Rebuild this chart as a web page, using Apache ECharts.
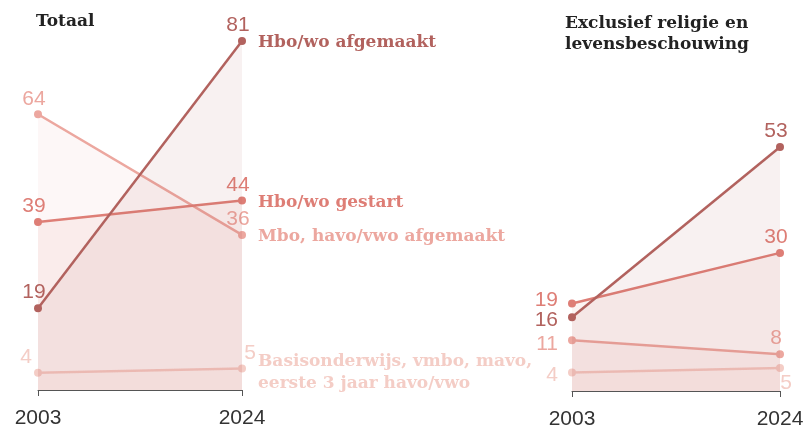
<!DOCTYPE html>
<html>
<head>
<meta charset="utf-8">
<script src="https://cdn.jsdelivr.net/npm/echarts@6/dist/echarts.min.js"></script>
<style>
    html, body { margin: 0; padding: 0; background: #fff; }
    #container { width: 808px; height: 430px; }
</style>
</head>
<body>
<div id="container"></div>
<script>
// jaren
var years = ['2003', '2024'];
var seriesNames = ['Basisonderwijs, vmbo, mavo,\neerste 3 jaar havo/vwo', 'Mbo, havo/vwo afgemaakt', 'Hbo/wo gestart', 'Hbo/wo afgemaakt'];

// Totaal
var totaalBasis = [4, 5];
var totaalMbo = [64, 36];
var totaalHboGestart = [39, 44];
var totaalHboAfgemaakt = [19, 81];

// Exclusief religie en levensbeschouwing
var exclBasis = [4, 5];
var exclMbo = [11, 8];
var exclHboGestart = [19, 30];
var exclHboAfgemaakt = [16, 53];

var colors = ['#f4cdc6', '#eca79f', '#de7e76', '#b2625e'];
var serif = 'DejaVu Serif';
var sans = 'Liberation Sans';

// label placement per punt (links paneel / rechts paneel)
var leftLabels = [
    [{position: 'top', offset: [-12, 4]}, {position: 'top', offset: [8, 4]}],
    [{position: 'top', offset: [-4, 4]}, {position: 'top', offset: [-4, 4]}],
    [{position: 'top', offset: [-4, 4]}, {position: 'top', offset: [-4, 4]}],
    [{position: 'top', offset: [-4, 4]}, {position: 'top', offset: [-4, 4]}]
];
var rightLabels = [
    [{position: 'left', distance: 10, offset: [0, 3]}, {position: 'bottom', offset: [6, -4]}],
    [{position: 'left', distance: 10, offset: [0, 4]}, {position: 'top', offset: [-4, 4]}],
    [{position: 'left', distance: 10, offset: [0, -3]}, {position: 'top', offset: [-4, 4]}],
    [{position: 'left', distance: 10, offset: [0, 3]}, {position: 'top', offset: [-4, 4]}]
];
var nameOffsets = [[0, 4], [0, 2], [0, 2], [0, 2]];

function makeSeries(values, idx, gridIdx, labels, withName) {
    var data = values.map(function (v, i) {
        var l = labels[i];
        return {
            value: v,
            label: {
                show: true,
                position: l.position,
                offset: l.offset,
                distance: l.distance || 5,
                color: colors[idx],
                fontFamily: sans,
                fontSize: 21
            }
        };
    });
    var s = {
        name: seriesNames[idx],
        type: 'line',
        xAxisIndex: gridIdx,
        yAxisIndex: gridIdx,
        data: data,
        symbol: 'circle',
        symbolSize: 8,
        z: 2 + idx,
        lineStyle: {color: colors[idx], width: 2.5},
        itemStyle: {color: colors[idx]},
        areaStyle: {color: colors[idx], opacity: 0.085},
        emphasis: {disabled: true},
        silent: true
    };
    if (withName) {
        s.endLabel = {
            show: true,
            distance: 16,
            offset: nameOffsets[idx],
            formatter: '{a}',
            color: colors[idx],
            fontFamily: serif,
            fontWeight: 'bold',
            fontSize: 17,
            lineHeight: 22
        };
    }
    return s;
}

var myChart = echarts.init(document.getElementById('container'));

var xAxisBase = {
    type: 'category',
    boundaryGap: false,
    data: years,
    axisLine: {lineStyle: {color: '#555', width: 1}},
    axisTick: {show: true, length: 6, lineStyle: {color: '#555'}},
    axisLabel: {color: '#333', fontFamily: sans, fontSize: 21, margin: 18}
};

var option = {
    animation: false,
    title: [
        {
            text: 'Totaal',
            left: 31, top: 8,
            textStyle: {fontFamily: serif, fontWeight: 'bold', fontSize: 17, color: '#222'}
        },
        {
            text: 'Exclusief religie en\nlevensbeschouwing',
            left: 560, top: 8,
            textStyle: {fontFamily: serif, fontWeight: 'bold', fontSize: 17, color: '#222', lineHeight: 21}
        }
    ],
    grid: [
        {left: 38, width: 204, top: 41, bottom: 40},
        {left: 572, width: 208, top: 147, bottom: 39}
    ],
    xAxis: [
        Object.assign({gridIndex: 0}, xAxisBase),
        Object.assign({gridIndex: 1}, xAxisBase)
    ],
    yAxis: [
        {gridIndex: 0, type: 'value', min: 0, max: 81, show: false},
        {gridIndex: 1, type: 'value', min: 0, max: 53, show: false}
    ],
    series: [
        makeSeries(totaalBasis, 0, 0, leftLabels[0], true),
        makeSeries(totaalMbo, 1, 0, leftLabels[1], true),
        makeSeries(totaalHboGestart, 2, 0, leftLabels[2], true),
        makeSeries(totaalHboAfgemaakt, 3, 0, leftLabels[3], true),
        makeSeries(exclBasis, 0, 1, rightLabels[0], false),
        makeSeries(exclMbo, 1, 1, rightLabels[1], false),
        makeSeries(exclHboGestart, 2, 1, rightLabels[2], false),
        makeSeries(exclHboAfgemaakt, 3, 1, rightLabels[3], false)
    ]
};
myChart.setOption(option);
</script>
</body>
</html>
